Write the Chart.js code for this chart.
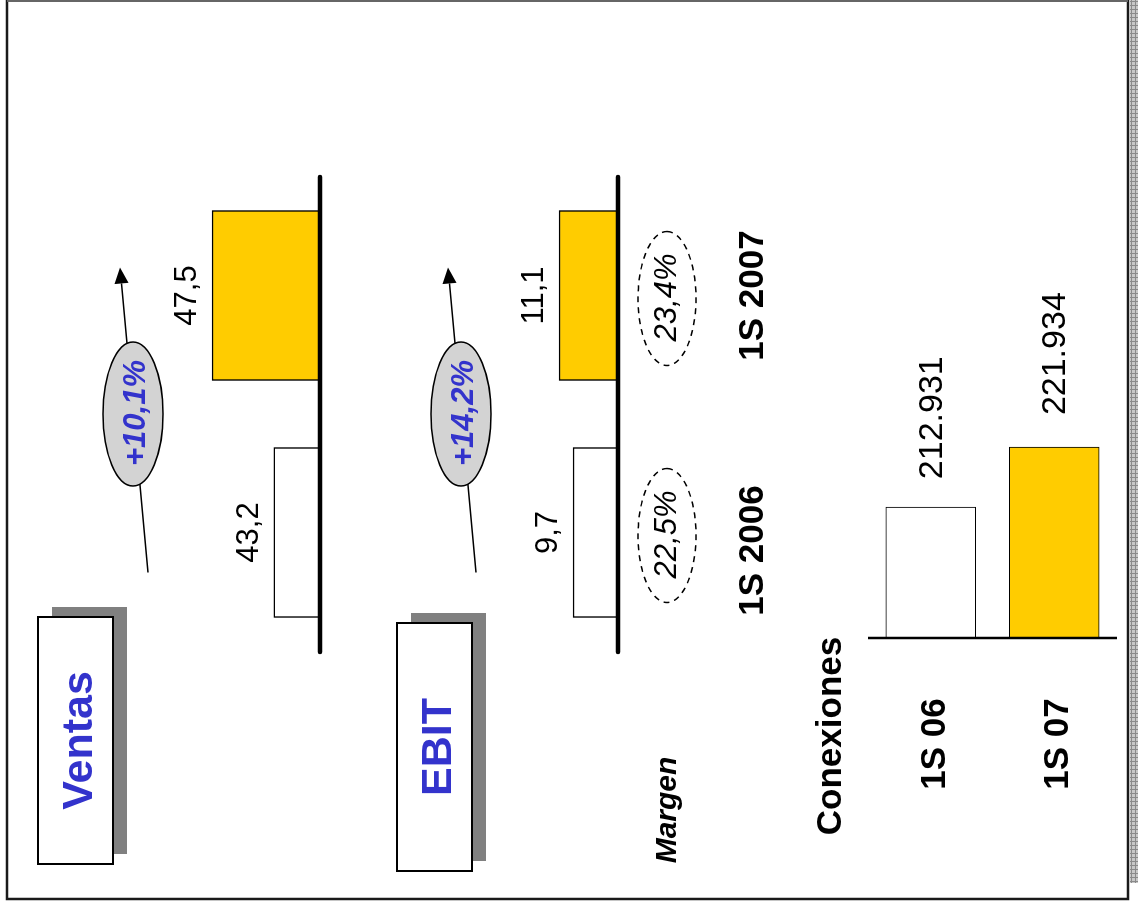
<!DOCTYPE html>
<html>
<head>
<meta charset="utf-8">
<script src="https://cdn.jsdelivr.net/npm/chart.js@4.4.1/dist/chart.umd.min.js"></script>
<style>
html,body{margin:0;padding:0;background:#fff;overflow:hidden;width:1138px;height:908px;}
#slide{position:absolute;left:0;top:0;width:908px;height:1138px;transform-origin:0 0;transform:translate(0,908px) rotate(-90deg);}
#slide canvas{position:absolute;left:0;top:0;}
</style>
</head>
<body>
<div id="slide">
  <canvas id="cv" width="908" height="1138"></canvas>
  <canvas id="ce" width="908" height="1138"></canvas>
  <canvas id="cc" width="908" height="1138"></canvas>
</div>
<script>
// ---- data ----
const periods = ['1S 2006', '1S 2007'];
const ventas = [43.2, 47.5];
const ebit = [9.7, 11.1];
const margen = ['22,5%', '23,4%'];
const ventasGrowth = '+10,1%';
const ebitGrowth = '+14,2%';
const conexPeriods = ['1S 06', '1S 07'];
const conexiones = [212931, 221934];
const titles = ['Ventas', 'EBIT', 'Conexiones', 'Margen'];

// ---- helpers ----
const FONT = '"Liberation Sans", Arial, Helvetica, sans-serif';
const BLUE = '#3333CC';
const YELLOW = '#FFCC00';
const fmt1 = v => v.toFixed(1).replace('.', ',');
const fmtK = v => String(v).replace(/\B(?=(\d{3})+(?!\d))/g, '.');

function txt(ctx, s, x, y, font, color, align) {
  ctx.save();
  ctx.font = font;
  ctx.fillStyle = color || '#000';
  ctx.textAlign = align || 'center';
  ctx.textBaseline = 'alphabetic';
  ctx.fillText(s, x, y);
  ctx.restore();
}
function arrow(ctx, x1, y1, x2, y2) {
  ctx.save();
  ctx.strokeStyle = '#000'; ctx.fillStyle = '#000'; ctx.lineWidth = 1.5;
  const a = Math.atan2(y2 - y1, x2 - x1), L = 16, W = 7;
  const bx = x2 - L * Math.cos(a), by = y2 - L * Math.sin(a);
  ctx.beginPath(); ctx.moveTo(x1, y1); ctx.lineTo(bx, by); ctx.stroke();
  ctx.beginPath();
  ctx.moveTo(x2, y2);
  ctx.lineTo(bx + W * Math.sin(a), by - W * Math.cos(a));
  ctx.lineTo(bx - W * Math.sin(a), by + W * Math.cos(a));
  ctx.closePath(); ctx.fill();
  ctx.restore();
}
function ellipse(ctx, cx, cy, rx, ry, fill, dashed) {
  ctx.save();
  ctx.beginPath(); ctx.ellipse(cx, cy, rx, ry, 0, 0, Math.PI * 2);
  if (fill) { ctx.fillStyle = fill; ctx.fill(); }
  ctx.strokeStyle = '#000'; ctx.lineWidth = 1.5;
  if (dashed) ctx.setLineDash([6, 5]);
  ctx.stroke();
  ctx.restore();
}
function titleBox(ctx, x, y, w, h, label) {
  ctx.save();
  ctx.fillStyle = '#808080';
  ctx.fillRect(x + 10, y + 14, w, h);
  ctx.fillStyle = '#fff';
  ctx.fillRect(x, y, w, h);
  ctx.strokeStyle = '#000'; ctx.lineWidth = 2;
  ctx.strokeRect(x, y, w, h);
  ctx.restore();
  txt(ctx, label, x + w / 2, y + h / 2 + 16, 'bold 43px ' + FONT, BLUE);
}
function axisLine(ctx, x1, y1, x2, y2, w, cap) {
  ctx.save();
  ctx.strokeStyle = '#000'; ctx.lineWidth = w; ctx.lineCap = cap || 'butt';
  ctx.beginPath(); ctx.moveTo(x1, y1); ctx.lineTo(x2, y2); ctx.stroke();
  ctx.restore();
}

function common(padding, yMin, yMax, indexAxis) {
  const valueAxis = indexAxis === 'y' ? 'x' : 'y';
  const catAxis = indexAxis === 'y' ? 'y' : 'x';
  const scales = {};
  scales[catAxis] = { display: false };
  scales[valueAxis] = { display: false, min: yMin, max: yMax };
  return {
    indexAxis: indexAxis || 'x',
    responsive: false, animation: false, events: [],
    layout: { padding: padding },
    scales: scales,
    plugins: { legend: { display: false }, tooltip: { enabled: false }, title: { display: false } }
  };
}

// ---- background / slide frame (bottom canvas) ----
const slideFrame = {
  id: 'slideFrame',
  beforeDraw(chart) {
    const ctx = chart.ctx;
    ctx.save();
    // hatched strip
    ctx.fillStyle = '#C8C8C8';
    ctx.fillRect(25, 1130, 883, 8);
    ctx.strokeStyle = '#8A8A8A'; ctx.lineWidth = 1;
    for (let u = 26.5; u < 908; u += 4) { ctx.beginPath(); ctx.moveTo(u, 1130); ctx.lineTo(u, 1138); ctx.stroke(); }
    for (let v = 1131.5; v < 1138; v += 4) { ctx.beginPath(); ctx.moveTo(25, v); ctx.lineTo(908, v); ctx.stroke(); }
    // slide border
    ctx.strokeStyle = '#1a1a1a'; ctx.lineWidth = 2.5;
    ctx.beginPath();
    ctx.moveTo(908, 7); ctx.lineTo(9, 7); ctx.lineTo(9, 1128); ctx.lineTo(908, 1128);
    ctx.stroke();
    ctx.strokeStyle = '#666'; ctx.lineWidth = 2;
    ctx.beginPath(); ctx.moveTo(907, 7); ctx.lineTo(907, 1128); ctx.stroke();
    ctx.restore();
    titleBox(ctx, 44, 38, 247, 75, titles[0]);
    titleBox(ctx, 37, 397, 248, 75, titles[1]);
  }
};

function barDecor(id, values, growth, vOff, withMargin) {
  return {
    id: id,
    afterDatasetsDraw(chart) {
      const ctx = chart.ctx, a = chart.chartArea, ys = chart.scales.y;
      const base = ys.getPixelForValue(ys.min);
      axisLine(ctx, a.left - 1, base, a.right, base, 4.5, 'round');
      const meta = chart.getDatasetMeta(0);
      meta.data.forEach((bar, i) => {
        txt(ctx, fmt1(values[i]), bar.x, bar.y - 16, '31px ' + FONT, '#000');
      });
      // growth arrow + bubble
      const b0 = meta.data[0].x, b1 = meta.data[1].x;
      arrow(ctx, b0 - 40, vOff + 14, b1 + 28, vOff - 14);
      const cx = (b0 + b1) / 2, cy = vOff - 1;
      ellipse(ctx, cx, cy, 72, 30, '#D3D3D3', false);
      txt(ctx, growth, cx + 1, cy + 12, 'italic bold 31px ' + FONT, BLUE);
      if (withMargin) {
        meta.data.forEach((bar, i) => {
          ellipse(ctx, bar.x - 3, 667, 67, 29, null, true);
          txt(ctx, margen[i], bar.x - 2, 676, 'italic 31px ' + FONT, '#000');
        });
        txt(ctx, periods[0], meta.data[0].x - 18, 763, 'bold 35px ' + FONT, '#000');
        txt(ctx, periods[1], meta.data[1].x, 763, 'bold 35px ' + FONT, '#000');
        txt(ctx, titles[3], 98, 676, 'italic bold 30px ' + FONT, '#000');
      }
    }
  };
}

const barStyle = {
  backgroundColor: ['#FFFFFF', YELLOW],
  borderColor: '#000',
  borderWidth: 1.5,
  barThickness: 170,
  borderSkipped: 'bottom'
};

// Ventas
new Chart(document.getElementById('cv'), {
  type: 'bar',
  data: { labels: periods, datasets: [Object.assign({ data: ventas }, barStyle)] },
  options: common({ left: 257, right: 177, top: 176, bottom: 818 }, 40, 50),
  plugins: [slideFrame, barDecor('ventasDecor', ventas, ventasGrowth, 134, false)]
});

// EBIT
new Chart(document.getElementById('ce'), {
  type: 'bar',
  data: { labels: periods, datasets: [Object.assign({ data: ebit }, barStyle)] },
  options: common({ left: 257, right: 177, top: 518, bottom: 520 }, 5.2, 15.2),
  plugins: [barDecor('ebitDecor', ebit, ebitGrowth, 462, true)]
});

// Conexiones (horizontal in the unrotated slide)
new Chart(document.getElementById('cc'), {
  type: 'bar',
  data: {
    labels: conexPeriods,
    datasets: [{
      data: conexiones,
      backgroundColor: ['#FFFFFF', YELLOW],
      borderColor: '#000',
      borderWidth: 1,
      barThickness: 90,
      borderSkipped: 'left'
    }]
  },
  options: common({ left: 270, right: 338, top: 869, bottom: 22 }, 193300, 238300, 'y'),
  plugins: [{
    id: 'conexDecor',
    afterDatasetsDraw(chart) {
      const ctx = chart.ctx, a = chart.chartArea, xs = chart.scales.x;
      const base = xs.getPixelForValue(xs.min);
      axisLine(ctx, base, a.top - 1, base, a.bottom + 1, 2.5);
      const meta = chart.getDatasetMeta(0);
      meta.data.forEach((bar, i) => {
        txt(ctx, fmtK(conexiones[i]), bar.x + 28 + 4 * i, bar.y + 11, '34px ' + FONT, '#000', 'left');
        txt(ctx, conexPeriods[i], 164, bar.y + 14, 'bold 35px ' + FONT, '#000');
      });
      txt(ctx, titles[2], 172, 841, 'bold 35px ' + FONT, '#000');
    }
  }]
});
</script>
</body>
</html>
